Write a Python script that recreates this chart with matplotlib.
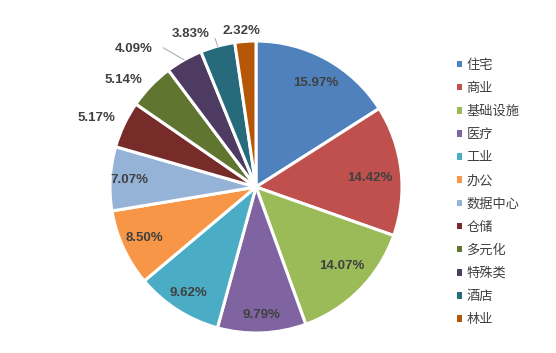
import numpy as np
import matplotlib
matplotlib.use("Agg")
import matplotlib.pyplot as plt

plt.rcParams['font.family'] = ['Noto Sans CJK SC', 'DejaVu Sans']

categories = ["住宅", "商业", "基础设施", "医疗", "工业", "办公",
              "数据中心", "仓储", "多元化", "特殊类", "酒店", "林业"]
shares = [15.97, 14.42, 14.07, 9.79, 9.62, 8.50, 7.07, 5.17, 5.14, 4.09, 3.83, 2.32]
colors = ["#4F81BD", "#C0504D", "#9BBB59", "#8064A2", "#4BACC6", "#F79646",
          "#95B3D7", "#772C2A", "#5F7530", "#4D3B62", "#276A7C", "#B65708"]

# label placement: radius (in pie radii) and angle tweak (deg) per slice
label_r = [0.82, 0.78, 0.80, 0.88, 0.86, 0.84, 0.87, 1.19, 1.17, 1.26, 1.14, 1.07]
label_da = [-1, -2, 2, 0, 0, 0, 0, 2, 5, 12, 8, 1]
leader = [False] * 9 + [True, True, False]

W, H = 556, 353
cx, cy, R = 256, 187, 146   # pixel centre measured from the top

fig = plt.figure(figsize=(W / 100, H / 100), dpi=100)
fig.patch.set_facecolor("white")
ax = fig.add_axes([(cx - R) / W, (H - cy - R) / H, 2 * R / W, 2 * R / H])

wedges, _ = ax.pie(shares, colors=colors, startangle=90, counterclock=False,
                   radius=1.0, wedgeprops=dict(edgecolor="white", linewidth=2.2))
ax.set_xlim(-1, 1)
ax.set_ylim(-1, 1)
ax.set_aspect("equal")
ax.axis("off")

for i, w in enumerate(wedges):
    mid = np.deg2rad((w.theta1 + w.theta2) / 2 + label_da[i])
    tx, ty = label_r[i] * np.cos(mid), label_r[i] * np.sin(mid)
    ax.text(tx, ty, f"{shares[i]:.2f}%", ha="center", va="center",
            fontsize=9.5, fontweight="bold", color="#404040",
            family=["Liberation Sans", "DejaVu Sans"])
    if leader[i]:
        m0 = np.deg2rad((w.theta1 + w.theta2) / 2)
        ex, ey = 1.0 * np.cos(m0), 1.0 * np.sin(m0)
        if i == 9:
            sx, sy = tx + 0.20, ty + 0.01
        else:
            sx, sy = tx + 0.17, ty - 0.03
        ax.plot([sx, ex], [sy, ey], color="#A6A6A6", lw=0.7, clip_on=False)

leg = fig.legend(wedges, categories, loc="upper left",
                 bbox_to_anchor=(450 / W, 1 - 52 / H), frameon=False,
                 fontsize=9.5, handlelength=0.4, handleheight=0.4,
                 handletextpad=0.35, labelspacing=0.77, borderpad=0)
for t in leg.get_texts():
    t.set_color("#404040")
for h in leg.legend_handles:
    h.set_edgecolor("none")

fig.savefig("out.png", dpi=100)
